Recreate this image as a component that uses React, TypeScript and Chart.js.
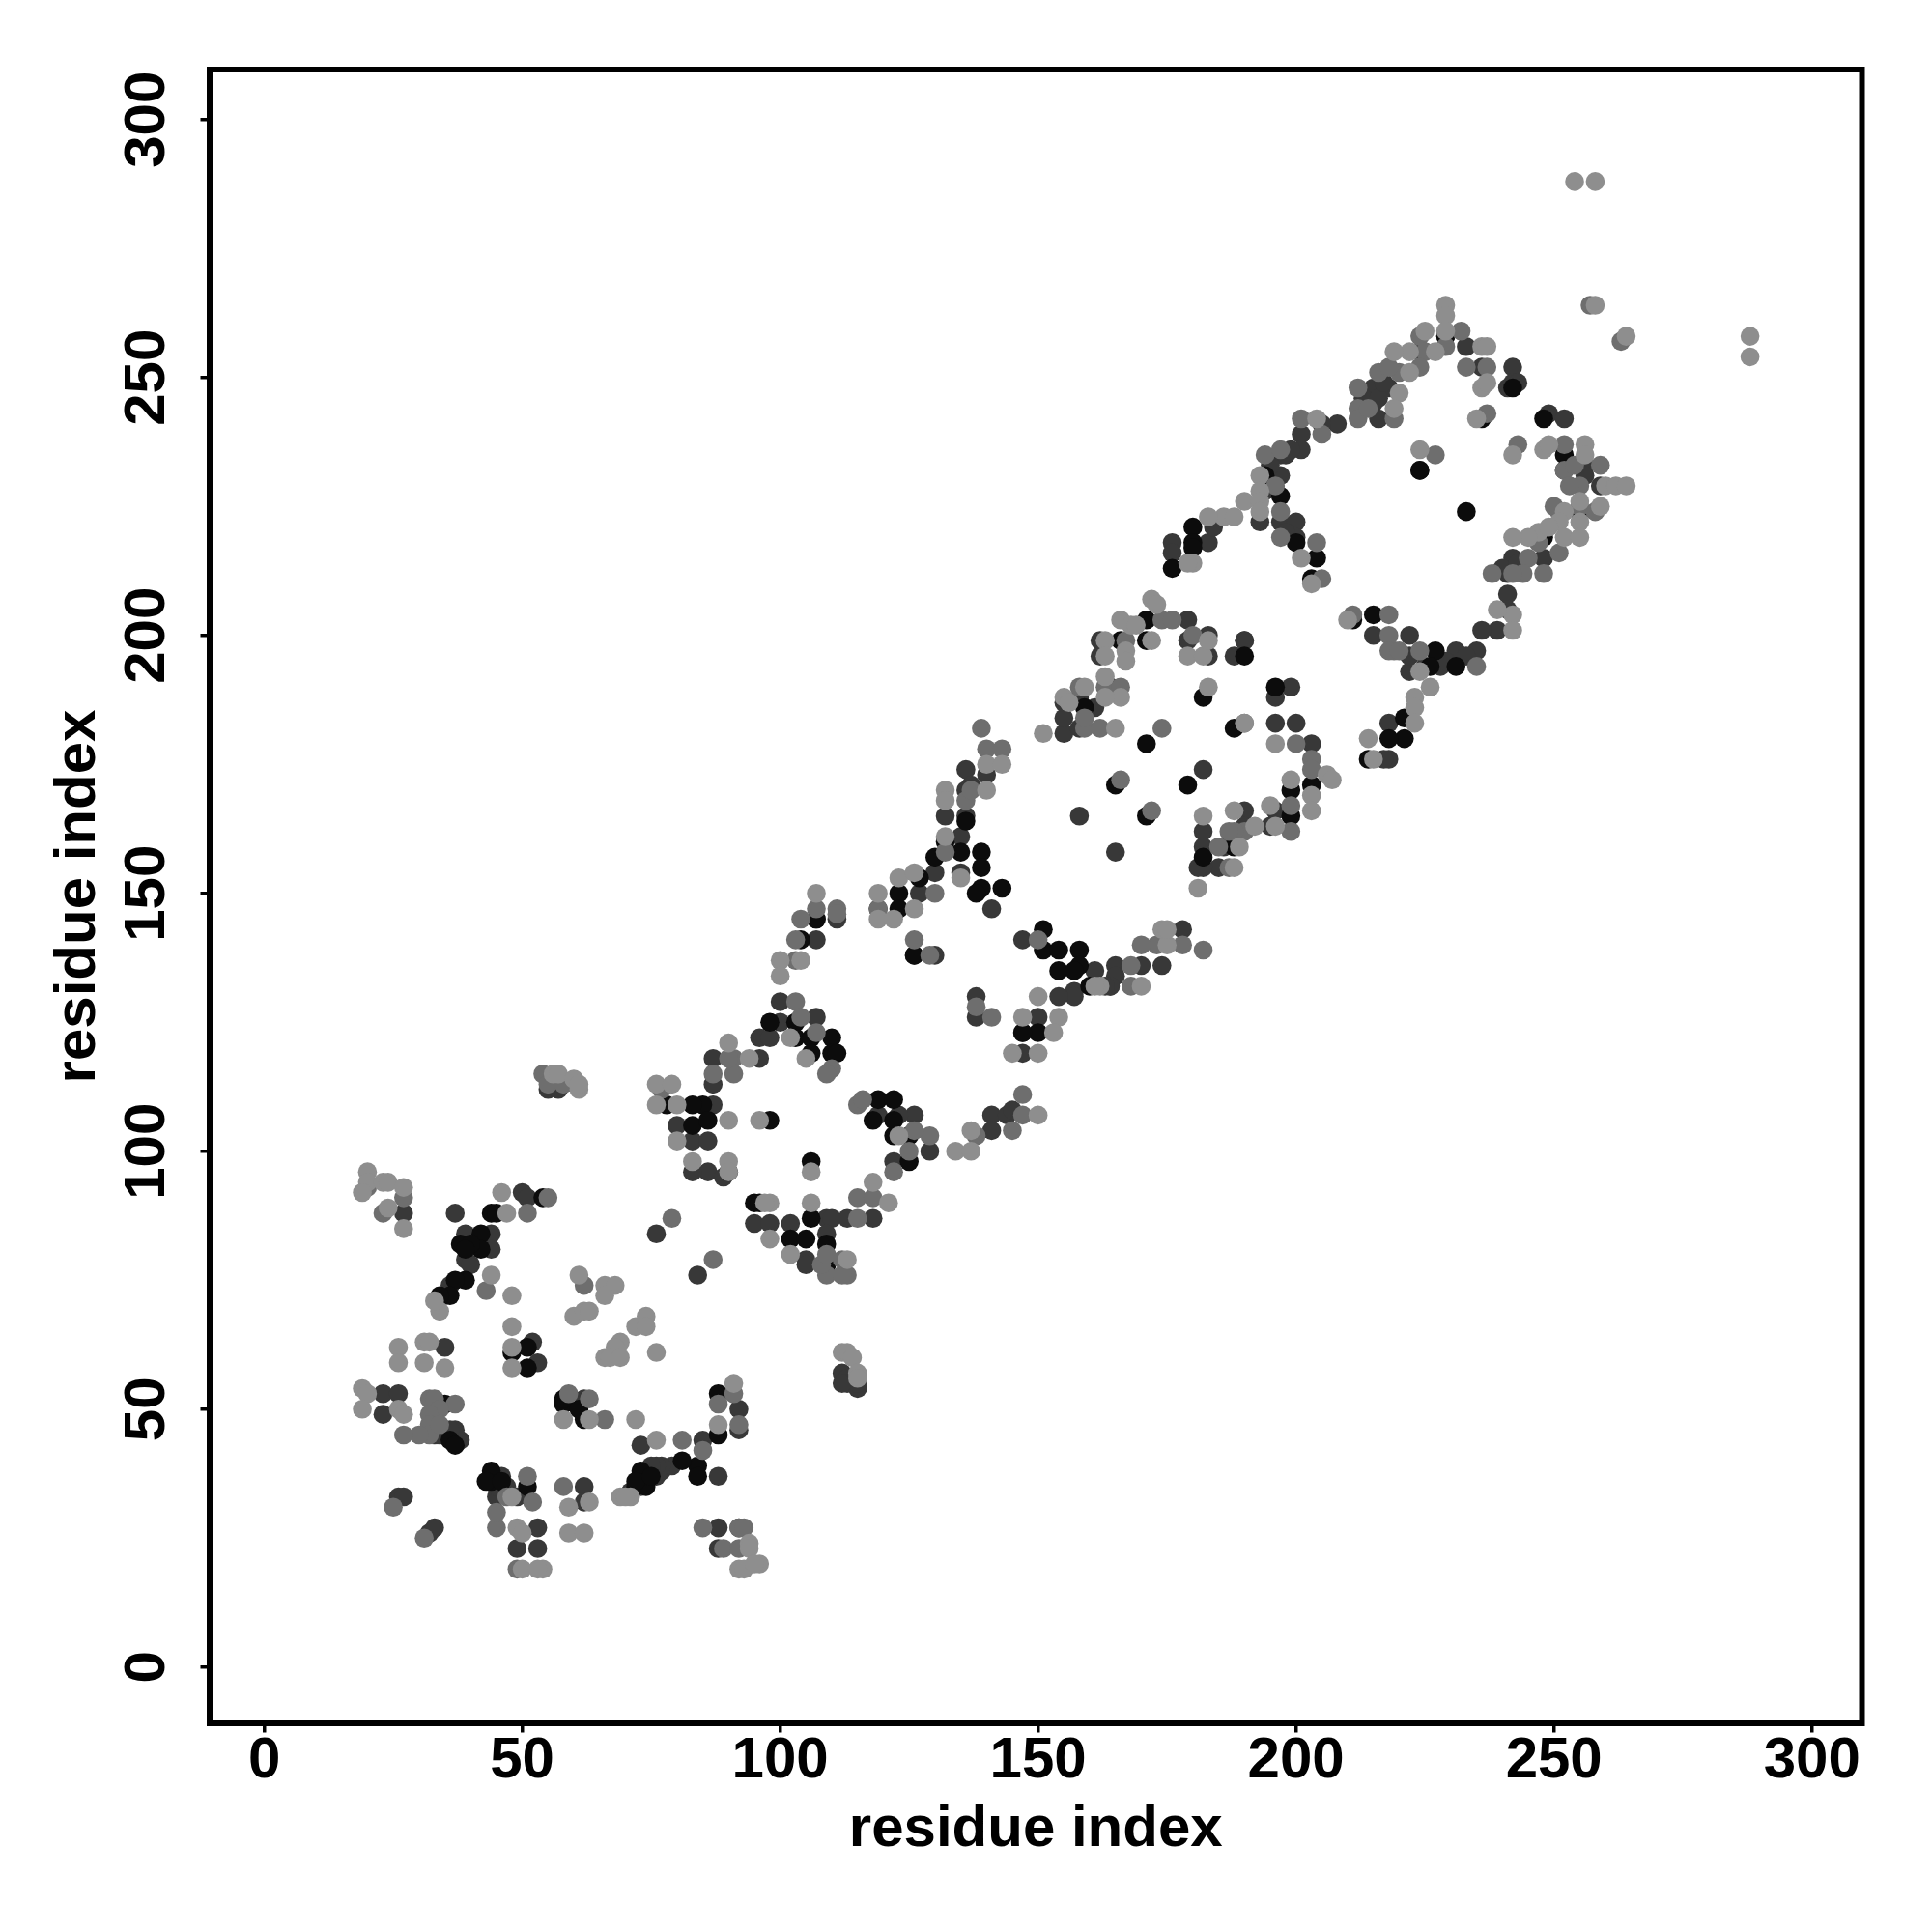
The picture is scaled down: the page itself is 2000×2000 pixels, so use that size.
import React, { useEffect, useRef } from "react";
import { Chart, registerables } from "chart.js";

Chart.register(...registerables);

const xTicks = [0, 50, 100, 150, 200, 250, 300];
const axisTitle = "residue index";

const lightPoints = [
  [254,288],[258,288],[258,264],[264,258],[288,258],[288,254],
  [56,115],[57,115],[60,114],[61,112],[61,113],[20,96],[20,94],[19,92],[23,94],[24,94],[24,89],[27,93],[27,85],
  [34,69],[33,71],[44,76],[48,72],[47,88],[46,92],[61,76],[66,74],[68,74],[66,72],[60,68],[62,69],[63,69],[74,68],[72,66],[74,66],
  [69,63],[68,62],[66,60],[67,60],[69,60],[76,61],[48,66],[48,62],[48,58],[26,62],[26,59],[31,63],[32,63],[31,59],[35,58],
  [19,54],[20,53],[19,50],[26,50],[27,49],[58,48],[63,48],[72,48],[76,44],[91,55],[88,47],[69,33],[71,33],[70,33],
  [49,27],[50,26],[59,31],[63,32],[59,26],[62,26],[94,24],[94,23],[92,19],[93,19],[96,20],[95,20],[50,19],[54,19],[53,19],[48,33],
  [76,113],[79,113],[76,109],[80,109],[90,106],[96,106],[80,102],[83,98],[90,98],[90,96],[106,96],[90,121],[94,118],[102,122],[105,118],
  [107,150],[100,137],[104,137],[100,134],[119,150],[119,145],[122,145],[123,153],[126,154],[126,147],[132,170],[132,168],[132,161],
  [135,153],[140,175],[143,175],[140,170],[106,90],[98,90],[97,90],[98,83],[102,80],[113,79],[121,90],[118,94],[123,103],
  [134,100],[137,100],[137,104],[150,107],[150,130],[147,126],[154,126],[153,123],[145,119],[150,119],[162,132],[151,181],[165,182],
  [172,207],[173,206],[166,203],[168,202],[169,202],[163,199],[172,199],[167,197],[163,196],[167,195],[179,196],[182,196],[183,199],
  [163,192],[166,188],[163,188],[159,190],[155,188],[156,187],[183,190],[190,183],[196,179],[206,173],[207,172],[199,172],[203,169],[203,166],
  [195,167],[196,163],[188,166],[192,163],[189,159],[188,155],[182,165],[181,151],[175,140],[174,143],[175,143],[170,132],[161,132],
  [229,264],[229,262],[229,259],[225,259],[227,255],[222,255],[219,255],[236,256],[237,256],[222,251],[236,248],[237,249],[220,247],[219,244],
  [235,242],[224,236],[242,235],[248,236],[249,237],[256,237],[256,235],[260,229],[262,229],[264,229],[255,226],[259,225],[252,224],[251,222],
  [255,222],[252,219],[255,219],[247,220],[245,219],[242,219],[242,204],[242,201],[239,205],[226,190],[223,188],[223,186],[223,183],[214,180],
  [215,176],[224,193],[210,203],[204,242],[193,231],[193,228],[190,226],[193,226],[193,224],[186,223],[188,223],[183,223],[180,214],[179,214],
  [203,210],[201,215],[112,61],[113,61],[114,60],[115,57],[115,56],[249,221],
];

const midPoints = [
  [54,115],[55,113],[58,113],[20,93],[23,88],[27,91],[51,88],[55,91],[43,73],[62,74],[37,51],[32,52],[33,52],[34,50],[32,49],[32,47],[32,45],[30,45],[27,45],
  [34,47],[59,53],[63,52],[66,48],[88,51],[91,53],[81,44],[85,42],[92,47],[58,35],[45,27],[45,30],[52,32],[51,37],[47,33],[25,31],[31,25],[85,27],[92,27],[93,27],
  [89,23],[92,23],[49,19],
  [77,112],[79,87],[87,115],[87,79],[103,129],[104,126],[107,123],[91,118],[91,115],[90,118],[110,116],[109,115],[111,147],[111,146],[107,147],[104,145],[103,141],[103,137],
  [119,147],[130,150],[136,168],[137,170],[132,158],[126,141],[129,138],[138,128],[141,126],[139,182],[140,178],[143,178],[115,91],[118,91],[115,87],
  [125,100],[129,103],[126,104],[122,96],[115,109],[116,110],[138,103],[145,104],[147,107],[147,111],[109,76],[113,76],[112,76],[108,78],[109,80],[112,79],[150,141],
  [159,182],[162,182],[174,203],[176,203],[167,199],[180,200],[163,190],[166,190],[159,184],[174,182],[166,172],[172,166],[199,167],[199,162],[200,179],[203,176],[203,174],
  [190,162],[188,162],[187,162],[185,159],[187,155],[168,136],[173,140],[170,140],[178,140],[182,139],[168,132],[190,183],[158,190],
  [232,259],[229,256],[224,258],[225,255],[233,252],[237,252],[224,252],[220,251],[216,251],[212,248],[212,244],[219,242],[212,242],[205,239],[201,242],[237,243],[227,235],[243,237],
  [252,237],[252,232],[259,233],[255,229],[255,225],[258,224],[251,224],[251,216],[245,215],[248,212],[244,212],[242,212],[219,197],[218,200],[218,204],[211,204],[194,235],[197,236],
  [197,224],[197,219],[204,218],[205,211],[218,197],[224,197],[235,194],[257,264],[263,257],[214,244],[218,252],[254,233],[253,229],[250,225],[247,218],[238,212],[220,197],[196,229],
];

const blackPoints = [
  [54,91],[44,88],[45,88],[42,84],[42,81],[39,75],[37,75],[36,72],[34,72],[35,51],[36,44],[37,43],[51,62],[51,58],[48,61],[44,36],[38,82],[40,82],[39,81],
  [58,51],[58,52],[62,48],[61,50],[88,45],[88,53],[84,39],[84,37],[81,40],[73,38],[72,35],[74,35],[44,38],[43,36],[46,36],[51,35],[72,36],[75,37],
  [85,109],[78,109],[83,109],[83,105],[86,106],[98,106],[90,96],[106,98],[98,125],[103,125],[103,122],[106,122],[110,122],[106,119],[110,119],[111,119],
  [107,145],[104,141],[123,150],[123,147],[127,153],[130,157],[132,160],[135,158],[139,158],[139,155],[139,151],[138,150],[143,151],[136,164],
  [126,138],[95,90],[96,90],[102,83],[106,87],[105,83],[109,82],[109,78],[125,98],[125,103],[122,103],[122,106],[118,106],[119,110],[122,110],
  [151,143],[151,139],[154,139],[158,139],[154,135],[158,136],[157,135],[160,132],[150,123],[147,123],
  [171,203],[171,199],[166,199],[159,186],[165,171],[171,179],[171,165],[179,171],[182,188],[188,182],[190,196],[196,190],[199,170],[199,165],[203,171],[182,157],[188,159],
  [229,258],[242,248],[236,242],[248,242],[252,235],[255,224],[248,219],[215,204],[227,197],[226,194],[231,194],[221,184],[221,180],[218,180],[214,176],
  [194,231],[197,227],[200,218],[204,215],[203,211],[180,221],[180,218],[180,217],[176,213],[224,232],[233,224],[211,203],
];

const darkPoints = [
  [27,88],[37,88],[39,84],[44,84],[44,81],[35,72],[36,74],[39,79],[40,78],[50,92],[51,91],[35,62],[52,63],[53,59],[23,53],[23,49],[26,53],[35,46],[38,44],[37,46],
  [33,45],[33,47],[34,45],[35,45],[36,46],[45,37],[46,34],[71,34],[73,35],[74,37],[76,37],[77,38],
  [62,52],[73,43],[92,50],[92,46],[85,44],[88,37],[79,39],[77,39],[76,39],[75,39],[74,36],[47,35],[45,33],[49,33],[46,37],[45,35],[53,27],[49,23],[53,23],
  [62,35],[62,32],[26,33],[27,33],[32,26],[33,27],[88,27],[88,23],[92,27],[76,84],[84,76],[55,114],[55,112],[57,113],[57,112],
  [87,118],[87,113],[87,109],[80,105],[83,102],[86,102],[86,96],[89,95],[83,96],[100,125],[100,129],[96,118],[96,122],[98,122],[107,126],
  [111,145],[107,145],[107,141],[127,150],[130,154],[119,147],[136,174],[136,170],[137,171],[136,165],[132,165],[135,161],[135,154],[141,147],[140,173],
  [130,138],[126,138],[138,130],[138,126],[102,86],[95,86],[98,86],[109,87],[110,87],[113,87],[118,87],[109,84],[105,79],[105,78],[122,98],[129,100],[126,107],[123,107],[119,107],
  [141,107],[141,104],[144,107],[145,108],[147,141],[161,135],[165,136],[164,132],[157,131],[157,130],[154,130],[150,126],[147,119],[155,181],[158,182],[147,123],
  [165,158],[158,165],[162,199],[162,196],[155,184],[155,187],[158,188],[161,186],[164,190],[179,203],[183,200],[183,196],[179,199],[188,196],[190,199],
  [196,188],[199,190],[196,183],[200,183],[203,179],[190,166],[196,166],[195,163],[190,163],[186,159],[182,162],[182,159],[185,155],[182,155],[181,155],[182,174],
  [165,134],[170,136],[174,136],[178,143],[164,132],[163,132],[229,258],[233,256],[224,255],[236,252],[242,252],[215,248],[218,248],[215,245],[216,242],[208,241],[205,241],[201,239],
  [242,249],[243,249],[241,248],[249,243],[252,242],[224,232],[256,233],[252,232],[259,229],[255,224],[248,215],[242,215],[241,212],[241,208],[241,205],[239,201],[236,201],
  [235,197],[231,197],[222,200],[215,200],[222,193],[228,194],[218,183],[218,176],[217,176],[197,235],[198,235],[201,236],[197,231],[194,228],[193,222],[197,222],[200,222],[200,219],
  [176,218],[176,216],[183,218],[184,221],[190,199],[112,57],[113,56],[113,55],[115,54],[115,55],[112,55],
  [213,246],[216,246],[217,249],[256,231],[240,213],[243,214],[229,195],[233,196],[225,194],[222,196],[195,233],[199,236],[198,220],
];

const shadeSets = [
  { points: lightPoints, color: "#8e8e8e" },
  { points: midPoints, color: "#6e6e6e" },
  { points: blackPoints, color: "#0c0c0c" },
  { points: darkPoints, color: "#383838" },
];

const frame = {
  id: "frame",
  afterDraw(chart: any) {
    const { ctx, chartArea: a } = chart;
    ctx.save();
    ctx.strokeStyle = "#000";
    ctx.lineWidth = 6;
    ctx.strokeRect(a.left, a.top, a.right - a.left, a.bottom - a.top);
    ctx.restore();
  },
};

export default function App() {
  const ref = useRef<HTMLCanvasElement>(null);
  useEffect(() => {
    const font = { family: "'Liberation Sans', Arial, sans-serif", size: 60, weight: "bold" as const };
    const chart = new Chart(ref.current!, {
      type: "scatter",
      data: {
        datasets: shadeSets.map((s) => ({
          data: s.points.map(([x, y]) => ({ x, y })),
          backgroundColor: s.color,
          borderWidth: 0,
          pointRadius: 9.8,
        })),
      },
      options: {
        responsive: false,
        animation: false,
        layout: { padding: { top: 72, right: 72.5, left: 0, bottom: 0 } },
        plugins: { legend: { display: false }, tooltip: { enabled: false } },
        scales: {
          x: {
            type: "linear",
            min: -10.6,
            max: 309.7,
            afterBuildTicks(s: any) { s.ticks = xTicks.map((value) => ({ value })); },
            afterFit(s: any) { s.height = 216; },
            grid: { drawOnChartArea: false, drawTicks: true, tickLength: 9.5, color: "#000", lineWidth: 3.5 },
            border: { display: false },
            ticks: { font, color: "#000", padding: -6, maxRotation: 0, minRotation: 0 },
            title: { display: true, text: axisTitle, font, color: "#000", padding: { top: 0, bottom: 70 } },
          },
          y: {
            type: "linear",
            min: -10.9,
            max: 309.7,
            afterBuildTicks(s: any) { s.ticks = xTicks.map((value) => ({ value })); },
            afterFit(s: any) { s.width = 217; },
            grid: { drawOnChartArea: false, drawTicks: true, tickLength: 9.5, color: "#000", lineWidth: 3.5 },
            border: { display: false },
            ticks: { font, color: "#000", padding: 4, minRotation: 90, maxRotation: 90, crossAlign: "center" },
            title: { display: true, text: axisTitle, font, color: "#000", padding: { top: 45, bottom: 0 } },
          },
        },
      },
      plugins: [frame],
    });
    return () => chart.destroy();
  }, []);
  return (
    <div style={{ position: "absolute", left: 0, top: 0, width: 2000, height: 2000, background: "#fff" }}>
      <canvas ref={ref} width={2000} height={2000} style={{ display: "block" }} />
    </div>
  );
}
